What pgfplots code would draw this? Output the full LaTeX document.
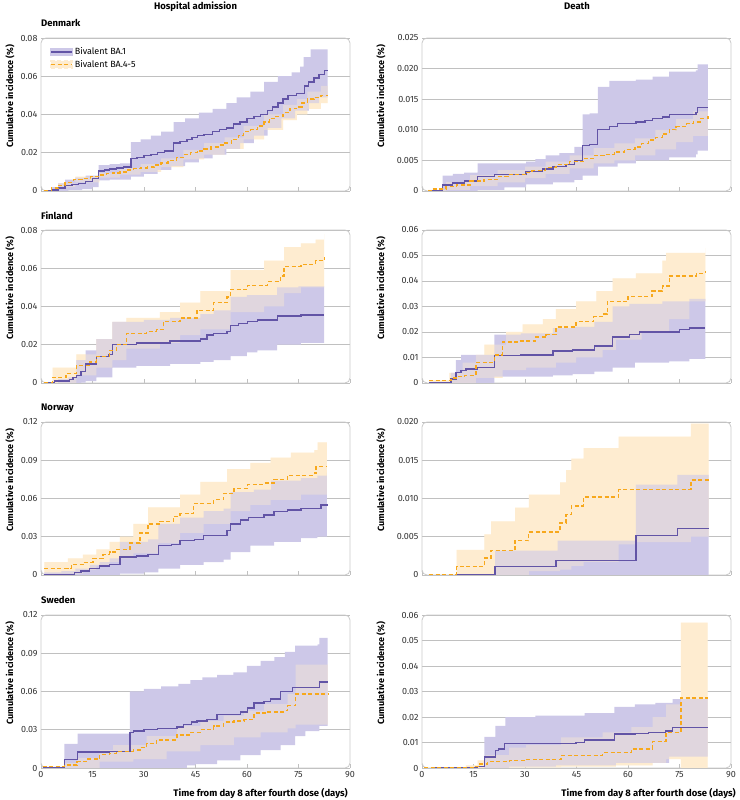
\documentclass[border=0pt]{standalone}
\usepackage{fontspec}
\setmainfont{Fira Sans}
\usepackage{pgfplots}
\pgfplotsset{compat=1.18}
\usepgfplotslibrary{fillbetween}

\definecolor{pline}{RGB}{98,84,166}
\definecolor{pband}{RGB}{205,200,232}
\definecolor{oline}{RGB}{247,168,28}
\definecolor{oband}{RGB}{254,236,208}
\definecolor{gridc}{RGB}{192,192,192}
\definecolor{boxc}{RGB}{200,200,200}

\pgfplotsset{
  panel/.style={
    scale only axis, width=309pt, height=153pt, anchor=south west,
    xmin=0, xmax=90, ymin=0,
    xtick={0,15,...,90}, scaled y ticks=false,
    axis line style={boxc, line width=0.8pt, rounded corners=5pt},
    ymajorgrids, grid style={gridc, line width=0.7pt},
    tick align=inside, xtick pos=left, ytick pos=left, major tick length=4pt,
    xtick style={gridc, line width=0.7pt, rounded corners=0pt}, ytick style={draw=none},
    ticklabel style={font=\fontsize{9}{10}\selectfont, text=black!80},
    /pgf/number format/assume math mode=true,
    ylabel={Cumulative incidence (\%)},
    ylabel style={font=\bfseries\fontsize{9}{10}\selectfont, anchor=center},
    title style={at={(axis description cs:0,1)}, anchor=base west, inner sep=0pt,
      yshift=5pt, font=\bfseries\fontsize{9.5}{11}\selectfont},
  },
  leftcol/.style={panel, ylabel style={at={(axis description cs:-0.1003,0.62)}}},
  rightcol/.style={panel, ylabel style={at={(axis description cs:-0.1327,0.62)}}},
  toprow/.style={xticklabels={{},{},{},{},{},{},{}}},
  bottomrow/.style={xlabel={Time from day 8 after fourth dose (days)},
    xlabel style={at={(axis description cs:1,0)}, anchor=base east, inner sep=0pt,
      yshift=-28pt, font=\bfseries\fontsize{9.5}{11}\selectfont}},
  pl/.style={pline, line width=1.4pt, const plot, no markers,
    legend image code/.code={\fill[pband] (0pt,-3.5pt) rectangle (21pt,3.5pt);
      \draw[##1] (0pt,0pt) -- (21pt,0pt);}},
  ol/.style={oline, line width=1.4pt, dash pattern=on 4pt off 2.5pt, const plot, no markers,
    legend image code/.code={\fill[oband] (0pt,-3.5pt) rectangle (21pt,3.5pt);
      \draw[##1] (0pt,0pt) -- (21pt,0pt);}},
  bnd/.style={draw=none, const plot, no markers, forget plot},
}

% #1 BA.1 upper, #2 BA.1 lower, #3 BA.4-5 upper, #4 BA.4-5 lower, #5 BA.1, #6 BA.4-5
% orange band, then purple band, then orange band again half transparent for the overlap
\newcommand{\km}[6]{%
  \addplot[bnd, name path=ua] coordinates {#1};
  \addplot[bnd, name path=da] coordinates {#2};
  \addplot[bnd, name path=ub] coordinates {#3};
  \addplot[bnd, name path=db] coordinates {#4};
  \addplot[fill=oband, draw=none, forget plot] fill between[of=ub and db];
  \addplot[fill=pband, draw=none, forget plot] fill between[of=ua and da];
  \addplot[fill=oband, fill opacity=0.4, draw=none, forget plot] fill between[of=ub and db];
  \addplot[pl] coordinates {#5};
  \addplot[ol] coordinates {#6};
}

\begin{document}
\begin{tikzpicture}
\node[anchor=base, font=\bfseries\fontsize{9.5}{11}\selectfont] at (195.5pt,790pt) {Hospital admission};
\node[anchor=base, font=\bfseries\fontsize{9.5}{11}\selectfont] at (577pt,790pt) {Death};

% Denmark, hospital admission
\begin{axis}[leftcol, toprow, at={(41pt,609pt)}, ymax=0.08, title={Denmark},
  ytick={0,0.02,0.04,0.06,0.08}, yticklabels={0,0.02,0.04,0.06,0.08},
  legend style={at={(0.02,0.965)}, anchor=north west, draw=none, fill=none,
    font=\fontsize{9}{10}\selectfont, row sep=0pt}, legend cell align=left]
\km{(1,0)(3,0.002)(5,0.004)(7,0.006)(10,0.007)(13,0.008)(16.8,0.0135)(20,0.014)(23,0.0145)(26.2,0.0255)(29,0.027)(32,0.029)(35,0.031)(38.6,0.036)(42,0.038)(46,0.041)(50,0.043)(54,0.046)(57,0.049)(61,0.052)(65,0.057)(69,0.060)(73,0.062)(75.5,0.065)(76.5,0.070)(78.5,0.074)(83.5,0.074)}
{(1,0)(5,0)(8,0.0005)(12,0.001)(15,0.002)(16.8,0.0055)(20,0.006)(26.2,0.0075)(30,0.009)(34,0.011)(38,0.013)(42,0.015)(46,0.017)(50,0.019)(54,0.022)(58,0.025)(62,0.029)(66,0.033)(70,0.038)(74,0.042)(78,0.046)(81,0.049)(83.5,0.050)}
{(1,0.0005)(5,0.004)(10,0.0075)(17,0.0095)(23,0.012)(29,0.014)(35,0.017)(41.5,0.0215)(47.5,0.025)(53.5,0.028)(59,0.034)(65,0.040)(70.5,0.045)(74.5,0.048)(77.6,0.052)(81.5,0.055)(83.5,0.055)}
{(1,0)(5,0.002)(10,0.0045)(17,0.0070)(23,0.0085)(29,0.010)(35,0.0125)(41.5,0.0165)(47.5,0.019)(53.5,0.022)(59,0.027)(65,0.032)(70.5,0.037)(74.5,0.040)(77.6,0.043)(81.5,0.046)(83.5,0.046)}
{(1,0)(3,0.0005)(5,0.0015)(7,0.003)(9,0.0035)(11,0.004)(13,0.005)(15,0.0065)(16.8,0.0105)(18.5,0.011)(20,0.0115)(22,0.012)(24,0.0125)(26.2,0.017)(28,0.0175)(30,0.0185)(32,0.019)(34,0.020)(36,0.021)(38.6,0.025)(40.5,0.026)(42.5,0.027)(44,0.028)(45.5,0.029)(47.5,0.0295)(50,0.031)(52,0.032)(54,0.033)(56,0.035)(58,0.036)(60,0.038)(62,0.039)(64,0.040)(66,0.042)(67.5,0.044)(69,0.046)(70.5,0.048)(72,0.050)(74.5,0.051)(76.7,0.055)(78,0.057)(79.5,0.059)(81,0.061)(82.5,0.063)(83.5,0.063)}
{(1,0)(3,0.0015)(5,0.003)(7,0.0045)(9.5,0.006)(12,0.0065)(14.5,0.0075)(16.8,0.0083)(19,0.009)(21,0.0095)(23,0.010)(25,0.011)(27,0.0117)(29,0.012)(31,0.0125)(33,0.0135)(35,0.0147)(37,0.016)(39.5,0.0175)(41.5,0.019)(43.5,0.020)(45.5,0.021)(47.5,0.022)(49.5,0.023)(51.5,0.024)(53.5,0.025)(55.5,0.027)(57.5,0.029)(59,0.031)(61,0.032)(63,0.034)(65,0.036)(66.5,0.038)(68.5,0.039)(70.5,0.041)(72.5,0.043)(74.5,0.044)(76,0.046)(77.6,0.048)(79.5,0.049)(81.5,0.050)(83.5,0.050)}
\addlegendentry{Bivalent BA.1}
\addlegendentry{Bivalent BA.4-5}
\end{axis}

% Denmark, death
\begin{axis}[rightcol, toprow, at={(422pt,609pt)}, ymax=0.025,
  ytick={0,0.005,0.010,0.015,0.020,0.025}, yticklabels={0,0.005,0.010,0.015,0.020,0.025}]
\km{(1.7,0)(6.0,0.0025)(9,0.0028)(12.3,0.0030)(16.2,0.0045)(30.3,0.0048)(33,0.0052)(36,0.0058)(40,0.0062)(44.4,0.0072)(46.8,0.0125)(48.8,0.0127)(51.2,0.0170)(54.6,0.0180)(62.3,0.0182)(67.2,0.0187)(72.0,0.0195)(79.8,0.0197)(80.3,0.0207)(83.3,0.0207)}
{(1.7,0)(16.2,0.0002)(24,0.0006)(30.3,0.0011)(38.1,0.0014)(44.4,0.0018)(46.8,0.0025)(51.2,0.0040)(57,0.0045)(62.3,0.0050)(72,0.0055)(79.8,0.0060)(80.3,0.0066)(83.3,0.0066)}
{(1.7,0.0002)(7,0.0015)(14,0.0026)(22,0.0034)(30,0.0040)(36,0.0048)(43,0.0058)(50,0.0070)(56,0.0078)(62,0.0086)(68,0.0100)(74,0.0118)(79,0.0130)(83.3,0.0145)}
{(1.7,0)(7,0.0002)(14,0.0008)(22,0.0014)(30,0.0021)(36,0.0028)(43,0.0037)(50,0.0045)(56,0.0050)(62,0.0058)(68,0.0068)(74,0.0080)(79,0.0090)(83.3,0.0100)}
{(1.7,0)(6.0,0.0010)(8.9,0.0013)(12.3,0.0016)(16.2,0.0024)(21.1,0.0027)(27.4,0.0027)(30.3,0.0032)(35.1,0.0036)(38.1,0.0040)(41.9,0.0043)(44.4,0.0050)(46.8,0.0074)(48.8,0.0076)(51.2,0.0100)(54.6,0.0105)(57.0,0.0110)(62.3,0.0113)(65,0.0115)(67.2,0.0118)(70,0.0121)(72.0,0.0125)(79.8,0.0128)(80.3,0.0136)(83.3,0.0136)}
{(1.7,0)(2.7,0.0003)(7,0.0007)(10,0.0010)(14,0.0016)(18,0.0019)(22,0.0024)(25,0.0027)(30,0.0030)(32,0.0033)(36,0.0038)(39,0.0043)(43,0.0048)(47,0.0053)(50,0.0058)(53,0.0060)(56,0.0064)(59,0.0068)(62,0.0072)(64,0.0078)(66,0.0083)(68,0.0087)(70,0.0093)(72,0.0100)(74,0.0105)(77,0.0110)(79,0.0113)(81,0.0118)(83.3,0.0122)}
\end{axis}

% Finland, hospital admission
\begin{axis}[leftcol, toprow, at={(41pt,417pt)}, ymax=0.08, title={Finland},
  ytick={0,0.02,0.04,0.06,0.08}, yticklabels={0,0.02,0.04,0.06,0.08}]
\km{(1.5,0)(5,0.002)(8,0.003)(10.3,0.012)(13,0.017)(16.1,0.023)(20.8,0.032)(26,0.032)(30,0.033)(37.6,0.034)(46.4,0.036)(50.3,0.038)(55.2,0.045)(60,0.046)(68.8,0.050)(75,0.0505)(82.5,0.0505)}
{(1.5,0)(11.7,0.0002)(13,0.001)(16.1,0.003)(20.8,0.008)(27.8,0.009)(37.6,0.010)(46.4,0.011)(50.3,0.012)(55.2,0.014)(60,0.016)(63,0.017)(68.8,0.020)(75.7,0.021)(82.5,0.021)}
{(1,0)(3.4,0.008)(10.3,0.015)(16.1,0.023)(20.8,0.032)(24.9,0.034)(34.6,0.037)(40.5,0.042)(46.4,0.048)(55.2,0.059)(65,0.064)(70.8,0.071)(75.7,0.073)(80,0.075)(82.5,0.078)}
{(1,0)(3.4,0)(10.3,0.004)(16.1,0.008)(20.8,0.012)(24.9,0.018)(34.6,0.021)(40.5,0.025)(46.4,0.028)(55.2,0.037)(65,0.040)(70.8,0.047)(75.7,0.050)(82.5,0.052)}
{(1.5,0)(3.9,0.001)(8.3,0.0017)(9.3,0.003)(10.3,0.004)(11.7,0.006)(13.0,0.010)(15.5,0.010)(16.1,0.014)(19.3,0.014)(19.8,0.015)(20.8,0.020)(27.8,0.021)(37.6,0.022)(46.4,0.023)(48.3,0.025)(50.3,0.026)(54.2,0.027)(55.2,0.030)(57.5,0.031)(60.1,0.032)(63.0,0.033)(68.8,0.035)(75.7,0.0355)(82.5,0.0355)}
{(1,0)(3.4,0.003)(7.3,0.005)(10.3,0.009)(14.2,0.011)(16.1,0.014)(20,0.017)(22,0.020)(24.9,0.026)(30.8,0.027)(33.7,0.028)(35.6,0.032)(40.5,0.034)(45.4,0.038)(50.3,0.042)(54.2,0.045)(55.2,0.049)(60.1,0.051)(66,0.053)(69.8,0.056)(70.8,0.061)(75.7,0.062)(80,0.064)(82.5,0.066)}
\end{axis}

% Finland, death
\begin{axis}[rightcol, toprow, at={(422pt,417pt)}, ymax=0.06,
  ytick={0,0.01,0.02,0.03,0.04,0.05,0.06}, yticklabels={0,0.01,0.02,0.03,0.04,0.05,0.06}]
\km{(2.1,0)(8.4,0.004)(9.9,0.009)(11.4,0.011)(21.1,0.019)(28.8,0.0195)(38.1,0.0215)(43.9,0.022)(50.2,0.024)(55.5,0.030)(60.4,0.031)(70,0.032)(77.9,0.033)(82.5,0.033)}
{(2.1,0)(21.1,0.0025)(38.1,0.003)(43.9,0.0035)(50.2,0.0045)(55.5,0.006)(62,0.008)(72,0.0085)(77.9,0.0095)(82.5,0.0095)}
{(2.1,0.001)(8,0.004)(11.8,0.008)(15.7,0.011)(18.2,0.015)(24.5,0.020)(29.3,0.023)(35.2,0.025)(39,0.029)(44.9,0.032)(50.8,0.036)(55.5,0.041)(62.3,0.043)(70,0.048)(71.1,0.051)(82.5,0.053)}
{(2.1,0)(11.8,0)(15.7,0.002)(23.5,0.005)(30.3,0.006)(39,0.008)(44.9,0.010)(52.6,0.013)(56.5,0.017)(64,0.020)(72,0.025)(77.9,0.032)(82.5,0.033)}
{(2.1,0)(8.4,0.0015)(9.9,0.004)(11.4,0.005)(12.8,0.0055)(16.2,0.006)(21.1,0.0107)(28.8,0.011)(38.1,0.0125)(43.9,0.013)(50.2,0.0145)(55.5,0.018)(60.4,0.019)(63.3,0.020)(75.0,0.021)(77.9,0.0215)(82.5,0.0215)}
{(2.1,0.001)(8.4,0.002)(10.4,0.0025)(12.4,0.003)(15.7,0.008)(18.2,0.008)(21.1,0.011)(23.5,0.016)(28.4,0.0165)(33,0.018)(36.1,0.019)(39,0.022)(44.9,0.024)(50,0.026)(53,0.027)(54.0,0.032)(60,0.034)(67,0.036)(70,0.038)(72,0.042)(77,0.042)(80,0.043)(82.5,0.044)}
\end{axis}

% Norway, hospital admission
\begin{axis}[leftcol, toprow, at={(41pt,225pt)}, ymax=0.12, title={Norway},
  ytick={0,0.03,0.06,0.09,0.12}, yticklabels={0,0.03,0.06,0.09,0.12}]
\km{(1,0.002)(5.9,0.003)(10,0.005)(14.2,0.008)(17.1,0.010)(20,0.013)(23,0.026)(31.2,0.028)(34.2,0.040)(40.5,0.045)(47.4,0.050)(53.2,0.052)(55.2,0.065)(62,0.067)(67,0.074)(75.7,0.076)(80.5,0.078)(83.3,0.080)}
{(1,0)(23,0.001)(30,0.002)(34.2,0.005)(40.5,0.008)(47.4,0.010)(53.2,0.012)(55.2,0.018)(61,0.023)(67.9,0.026)(75.7,0.029)(80.5,0.030)(83.3,0.033)}
{(1,0.010)(7.8,0.013)(12.2,0.016)(16.1,0.020)(20,0.026)(23,0.030)(26.9,0.040)(31.2,0.053)(40.5,0.063)(46.4,0.073)(54.2,0.083)(61,0.088)(66.9,0.092)(72.8,0.096)(79.6,0.098)(80.6,0.104)(83.3,0.104)}
{(1,0.001)(7.8,0.001)(12.2,0.004)(16.1,0.007)(20,0.010)(23,0.013)(26.9,0.017)(34.2,0.025)(40.5,0.033)(47.4,0.040)(55.2,0.050)(61,0.055)(66.9,0.059)(75.7,0.063)(83.3,0.066)}
{(1,0)(5.9,0.0005)(9.8,0.002)(11.7,0.003)(14.2,0.005)(17.1,0.007)(20.0,0.008)(23.0,0.014)(27.8,0.015)(31.2,0.016)(34.2,0.023)(38,0.024)(40.5,0.027)(44.7,0.028)(47.4,0.031)(53.2,0.031)(54.2,0.035)(55.2,0.040)(58.1,0.043)(60.5,0.045)(65,0.047)(67.9,0.050)(71.8,0.051)(75.7,0.052)(80.5,0.052)(81.5,0.055)(83.3,0.056)}
{(1,0.005)(7.8,0.005)(8.8,0.008)(12.2,0.010)(15.1,0.013)(18.1,0.016)(20.0,0.018)(22.0,0.020)(25.9,0.025)(28.8,0.033)(31.2,0.040)(34.7,0.042)(38.6,0.046)(40.5,0.048)(44.4,0.056)(50.3,0.059)(53.2,0.064)(56.2,0.068)(60.1,0.071)(65,0.072)(67.9,0.075)(71.8,0.078)(79.6,0.080)(80.1,0.085)(83.3,0.085)}
\end{axis}

% Norway, death
\begin{axis}[rightcol, toprow, at={(422pt,225pt)}, ymax=0.020,
  ytick={0,0.005,0.010,0.015,0.020}, yticklabels={0,0.005,0.010,0.015,0.020}]
\km{(10.1,0)(21.3,0.0032)(39.5,0.0045)(62.3,0.0118)(74.4,0.0131)(83.5,0.0131)}
{(10.1,0)(83.5,0)}
{(2.1,0)(10.1,0.0033)(18.2,0.0053)(20.1,0.0070)(27.1,0.0088)(31.1,0.0105)(40.2,0.0121)(42,0.0137)(43.5,0.0152)(47.1,0.0166)(57.3,0.0181)(78.3,0.0198)(83.5,0.0198)}
{(2.1,0)(31.1,0.0005)(40.2,0.0007)(43.5,0.0012)(47.1,0.0017)(57.3,0.0040)(62.3,0.0043)(78.3,0.0050)(83.5,0.0050)}
{(10.1,0)(21.3,0.0011)(39.0,0.0019)(62.3,0.0052)(74.4,0.0061)(83.5,0.0061)}
{(2.1,0)(10.1,0.0011)(18.2,0.0022)(20.1,0.0032)(27.1,0.0045)(31.1,0.0056)(40.2,0.0068)(41.9,0.0079)(43.5,0.0090)(47.1,0.0102)(57.3,0.0112)(78.3,0.0124)(83.5,0.0124)}
\end{axis}

% Sweden, hospital admission
\begin{axis}[leftcol, bottomrow, at={(41pt,32pt)}, ymax=0.12, title={Sweden},
  xlabel style={xshift=-2pt},
  ytick={0,0.03,0.06,0.09,0.12}, yticklabels={0,0.03,0.06,0.09,0.12}]
\km{(0.5,0)(6.8,0.019)(10.7,0.027)(25.9,0.060)(30,0.062)(35,0.064)(40,0.066)(43.5,0.069)(47,0.071)(51.3,0.073)(56,0.075)(60,0.080)(64,0.084)(68,0.087)(71,0.091)(74,0.096)(80.6,0.097)(81.1,0.102)(83.5,0.102)}
{(0.5,0)(40.5,0)(42.5,0.002)(45,0.003)(51.3,0.006)(58.1,0.010)(64,0.014)(69.8,0.018)(74,0.025)(77,0.029)(80.6,0.029)(81.1,0.033)(83.5,0.033)}
{(0.5,0.001)(6.8,0.004)(10.5,0.008)(17.1,0.014)(21,0.018)(30.8,0.025)(39.6,0.033)(46.4,0.037)(53.2,0.041)(59.1,0.045)(65,0.050)(71.8,0.058)(74.2,0.081)(83.5,0.081)}
{(0.5,0)(12,0)(17.1,0.005)(26.9,0.007)(36.6,0.013)(46.4,0.018)(56.2,0.024)(64,0.028)(71.8,0.031)(74.2,0.034)(83.5,0.034)}
{(0.5,0)(6.8,0.0065)(10.7,0.0125)(20,0.013)(25.9,0.028)(27,0.029)(30,0.030)(34,0.031)(39.6,0.032)(41.5,0.034)(43.9,0.036)(45.4,0.037)(48.3,0.038)(51.3,0.042)(56.2,0.042)(58.1,0.044)(60.1,0.047)(62.0,0.051)(65,0.052)(66.9,0.054)(69.8,0.060)(73.2,0.063)(80.6,0.063)(81.1,0.0675)(83.5,0.0675)}
{(0.5,0.001)(6.3,0.001)(6.8,0.0025)(10.5,0.005)(13.2,0.007)(17.1,0.0105)(20,0.0115)(22,0.013)(26.9,0.014)(28.8,0.016)(30.8,0.019)(33.7,0.022)(39.6,0.026)(43.5,0.028)(46.4,0.030)(50.3,0.033)(53.2,0.036)(56.2,0.037)(59.1,0.038)(62,0.043)(66,0.044)(71,0.045)(71.8,0.049)(74.2,0.058)(83.5,0.058)}
\end{axis}

% Sweden, death
\begin{axis}[rightcol, bottomrow, at={(422pt,32pt)}, ymax=0.06,
  xlabel style={xshift=5pt},
  ytick={0,0.01,0.02,0.03,0.04,0.05,0.06}, yticklabels={0,0.01,0.02,0.03,0.04,0.05,0.06}]
\km{(3.1,0)(18.2,0.0122)(21.4,0.0165)(24.3,0.020)(33,0.0205)(47.4,0.0215)(56.0,0.024)(62,0.025)(68,0.0255)(73,0.027)(83.2,0.027)}
{(3.1,0)(25.4,0.0005)(39,0.001)(56.5,0.002)(72,0.0045)(83.2,0.0045)}
{(0.7,0)(12.8,0.001)(16.2,0.003)(18.6,0.005)(25.4,0.008)(30.3,0.009)(40.5,0.012)(52.6,0.014)(61,0.016)(67.2,0.020)(71.1,0.025)(75.4,0.057)(83.2,0.057)}
{(0.7,0)(25.4,0.0002)(40.5,0.0005)(56.5,0.001)(67.2,0.002)(71.1,0.0035)(75.4,0)(83.2,0)}
{(3.1,0)(16.2,0.0005)(18.2,0.0043)(21.4,0.0068)(22.3,0.0075)(24.0,0.0095)(33,0.0095)(44.9,0.010)(47.4,0.011)(56.0,0.0133)(62,0.0135)(66,0.014)(71,0.0145)(73.0,0.016)(83.2,0.016)}
{(0.7,0)(14.8,0.0007)(16.7,0.0015)(19.1,0.0025)(25.4,0.003)(30.3,0.0033)(40.5,0.005)(52.6,0.006)(61,0.0075)(67.2,0.0105)(71.1,0.014)(75.4,0.0275)(83.2,0.0275)}
\end{axis}
\pgfresetboundingbox
\path[use as bounding box] (0,0) rectangle (739pt,800pt);
\end{tikzpicture}
\end{document}
